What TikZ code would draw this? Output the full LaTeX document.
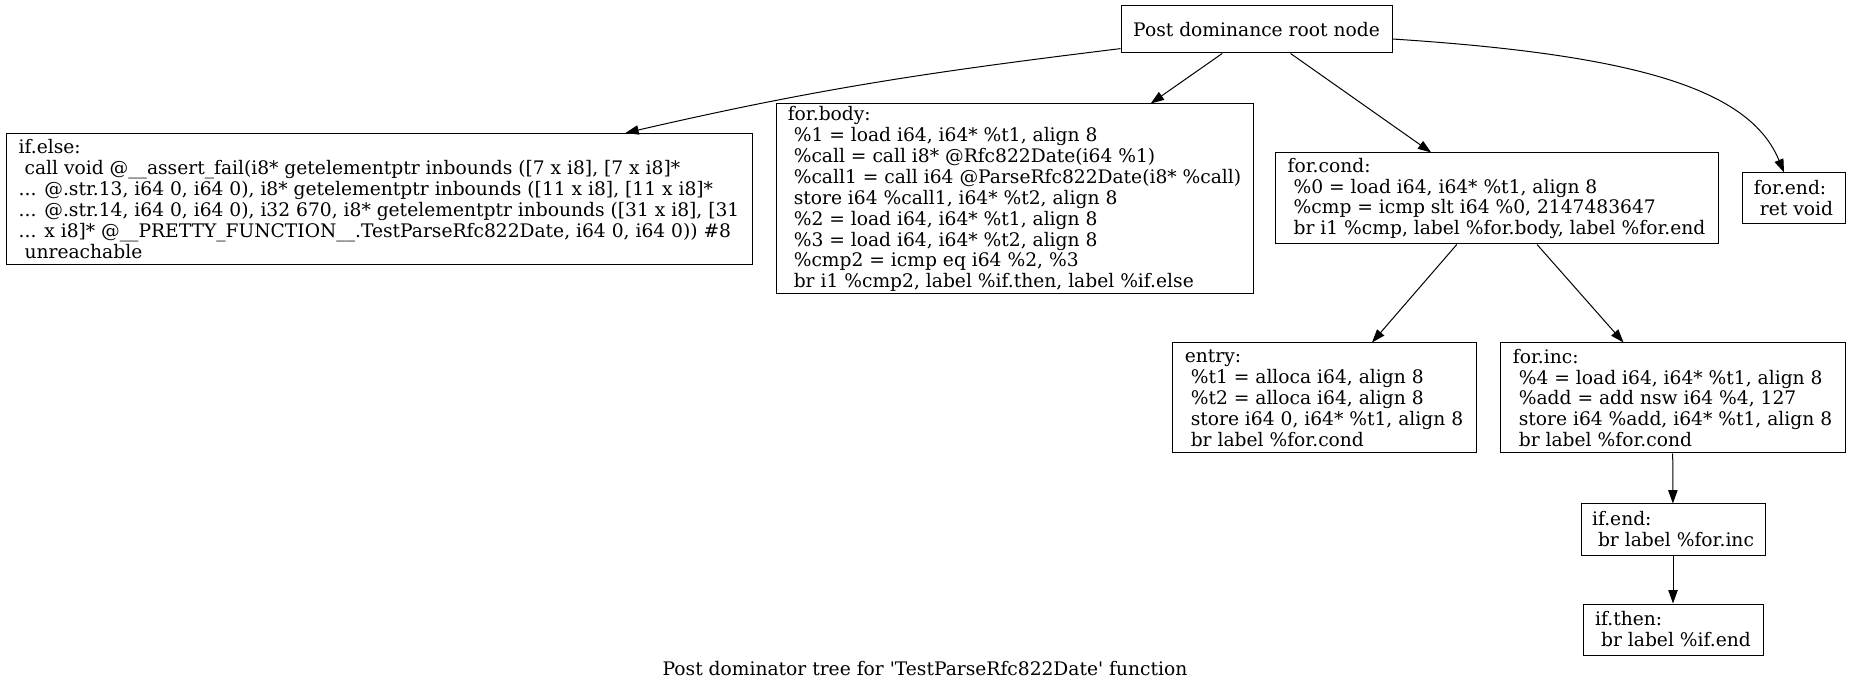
\documentclass[tikz,border=0pt]{standalone}
\usepackage{fontspec}
\usepackage{tikz}
\usetikzlibrary{arrows.meta}
\newfontfamily\dotfont{DejaVu Serif}
\newcommand\ind{\hspace*{0.32em}}

\begin{document}
\begin{tikzpicture}[x=0.75pt,y=-0.75pt,
    bb/.style={draw=black, line width=0.75pt, rectangle, align=left, inner sep=0pt,
               font=\dotfont\fontsize{14pt}{15.7pt}\selectfont},
    boxsize/.style 2 args={minimum width=#1*0.75pt, minimum height=#2*0.75pt}]
    \useasboundingbox (0,0) rectangle (1850,691);
    \begin{scope}[every node/.style={bb}]
        \node[boxsize={271}{47}] (root) at (1256.5,29.5) {Post dominance root node};
        \node[boxsize={746}{131}] (ifelse) at (379,199) {if.else:\\
            \ind call void @\_\_assert\_fail(i8* getelementptr inbounds ([7 x i8], [7 x i8]*\\
            ... @.str.13, i64 0, i64 0), i8* getelementptr inbounds ([11 x i8], [11 x i8]*\\
            ... @.str.14, i64 0, i64 0), i32 670, i8* getelementptr inbounds ([31 x i8], [31\\
            ... x i8]* @\_\_PRETTY\_FUNCTION\_\_.TestParseRfc822Date, i64 0, i64 0)) \#8\\
            \ind unreachable};
        \node[boxsize={477}{190}] (forbody) at (1014.5,199) {for.body:\\
            \ind \%1 = load i64, i64* \%t1, align 8\\
            \ind \%call = call i8* @Rfc822Date(i64 \%1)\\
            \ind \%call1 = call i64 @ParseRfc822Date(i8* \%call)\\
            \ind store i64 \%call1, i64* \%t2, align 8\\
            \ind \%2 = load i64, i64* \%t1, align 8\\
            \ind \%3 = load i64, i64* \%t2, align 8\\
            \ind \%cmp2 = icmp eq i64 \%2, \%3\\
            \ind br i1 \%cmp2, label \%if.then, label \%if.else};
        \node[boxsize={443}{91}] (forcond) at (1496.5,198.5) {for.cond:\\
            \ind \%0 = load i64, i64* \%t1, align 8\\
            \ind \%cmp = icmp slt i64 \%0, 2147483647\\
            \ind br i1 \%cmp, label \%for.body, label \%for.end};
        \node[boxsize={103}{51}] (forend) at (1793.5,198.5) {for.end:\\
            \ind ret void};
        \node[boxsize={304}{110}] (entry) at (1324,398) {entry:\\
            \ind \%t1 = alloca i64, align 8\\
            \ind \%t2 = alloca i64, align 8\\
            \ind store i64 0, i64* \%t1, align 8\\
            \ind br label \%for.cond};
        \node[boxsize={345}{110}] (forinc) at (1672.5,398) {for.inc:\\
            \ind \%4 = load i64, i64* \%t1, align 8\\
            \ind \%add = add nsw i64 \%4, 127\\
            \ind store i64 \%add, i64* \%t1, align 8\\
            \ind br label \%for.cond};
        \node[boxsize={184}{51}] (ifend) at (1673,529.5) {if.end:\\
            \ind br label \%for.inc};
        \node[boxsize={180}{51}] (ifthen) at (1673,629.5) {if.then:\\
            \ind br label \%if.end};
    \end{scope}

    \node[font=\dotfont\fontsize{14pt}{15.7pt}\selectfont, inner sep=0pt] (caption) at (925,669)
        {Post dominator tree for \textquotesingle TestParseRfc822Date\textquotesingle{} function};

    \begin{scope}[>={Triangle[length=10pt,width=7pt]},
                  every edge/.style={draw=black,line width=0.75pt}]
        \path [->] (root.188) edge[out=187,in=13] (ifelse.15);
        \path [->] (root) edge (forbody);
        \path [->] (root) edge (forcond);
        \draw [->,line width=0.75pt] (root.356) .. controls (1640,55) and (1750,90) .. (forend.110);
        \path [->] (forcond) edge (entry);
        \path [->] (forcond) edge (forinc);
        \path [->] (forinc) edge (ifend);
        \path [->] (ifend) edge (ifthen);
    \end{scope}
\end{tikzpicture}
\end{document}
